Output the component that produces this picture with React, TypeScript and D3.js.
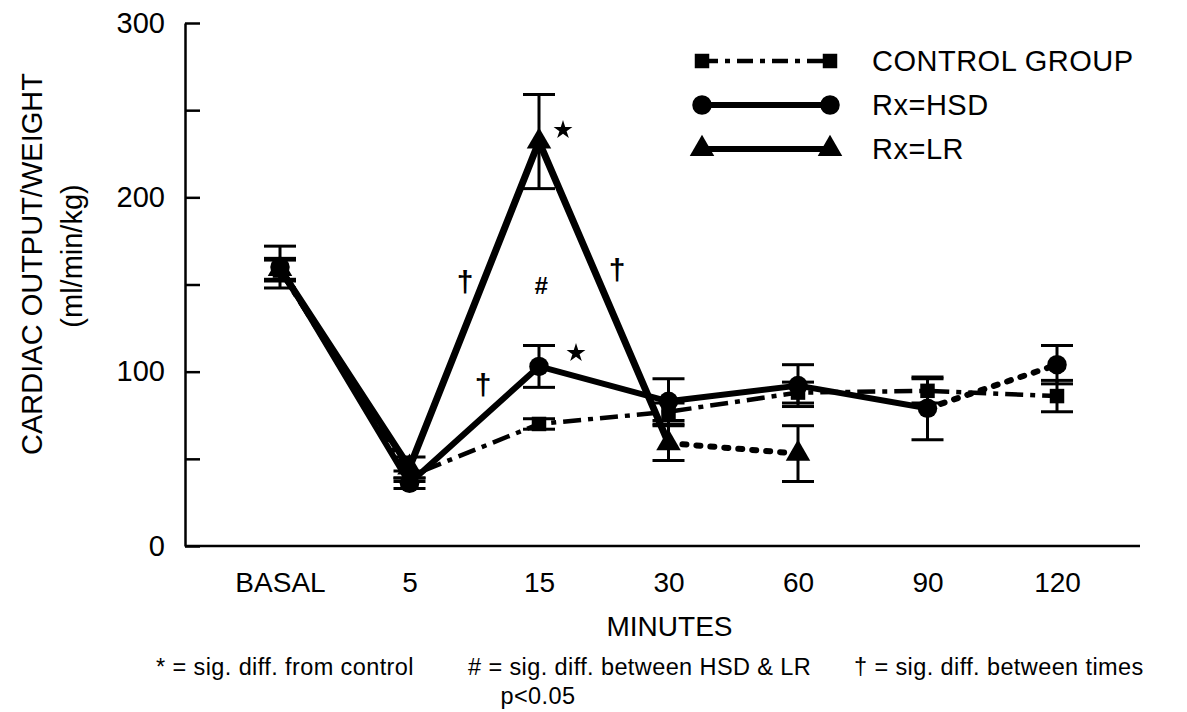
import React, { useRef, useEffect } from "react";
import * as d3 from "d3";

const WIDTH = 1187;
const HEIGHT = 712;

const TIMES = ["BASAL", "5", "15", "30", "60", "90", "120"];

const CONTROL_MEAN = [158, 40, 70, 77, 88, 89, 86];
const CONTROL_ERR = [6, 3, 3, 5, 6, 7, 9];

const HSD_MEAN = [160, 36, 103, 83, 92, 79, 104];
const HSD_ERR = [12, 3, 12, 13, 12, 18, 11];

const LR_MEAN = [159, 45, 232, 59, 53, null, null];
const LR_ERR = [6, 6, 27, 10, 16, null, null];

// index of the first segment that is drawn dotted
const HSD_DOTTED_FROM = 5;
const LR_DOTTED_FROM = 3;

const Y_TICKS = [0, 50, 100, 150, 200, 250, 300];

const FONT = "'Liberation Sans', Arial, Helvetica, sans-serif";

export default function App() {
  const svgRef = useRef<SVGSVGElement | null>(null);

  useEffect(() => {
    const svg = d3.select(svgRef.current);
    svg.selectAll("*").remove();

    const x = d3.scalePoint<string>().domain(TIMES).range([280, 1057]);
    const y = d3.scaleLinear().domain([0, 300]).range([546, 23]);
    const axisLeftX = 185;

    // ── Axes ────────────────────────────────────────────────
    const yAxis = d3
      .axisLeft(y)
      .tickValues(Y_TICKS)
      .tickSizeInner(-15)
      .tickSizeOuter(0)
      .tickPadding(20)
      .tickFormat((d) => ((d as number) % 100 === 0 ? String(d) : ""));

    const yg = svg
      .append("g")
      .attr("transform", `translate(${axisLeftX},0)`)
      .call(yAxis);
    yg.selectAll("path, line").attr("stroke", "#000").attr("stroke-width", 2.5);
    yg.selectAll("text")
      .attr("font-size", 29)
      .attr("font-family", FONT)
      .attr("fill", "#000");

    svg
      .append("line")
      .attr("x1", axisLeftX)
      .attr("x2", 1140)
      .attr("y1", y(0))
      .attr("y2", y(0))
      .attr("stroke", "#000")
      .attr("stroke-width", 2.5);

    const xAxis = d3.axisBottom(x).tickSize(0).tickPadding(26);
    const xg = svg.append("g").attr("transform", `translate(0,${y(0)})`).call(xAxis);
    xg.select(".domain").remove();
    xg.selectAll("text")
      .attr("font-size", 28)
      .attr("font-family", FONT)
      .attr("fill", "#000");

    // ── Axis titles ─────────────────────────────────────────
    svg
      .append("text")
      .attr("x", x("30")! + 1)
      .attr("y", 636)
      .attr("text-anchor", "middle")
      .attr("font-size", 28)
      .attr("font-family", FONT)
      .text("MINUTES");

    const yTitle = svg
      .append("g")
      .attr("transform", "translate(0,264) rotate(-90)")
      .attr("font-family", FONT)
      .attr("text-anchor", "middle");
    yTitle.append("text").attr("x", 0).attr("y", 42).attr("font-size", 29).text("CARDIAC OUTPUT/WEIGHT");
    yTitle.append("text").attr("x", 8).attr("y", 82).attr("font-size", 29).text("(ml/min/kg)");

    // ── Lines ───────────────────────────────────────────────
    const pts = (means: (number | null)[]) =>
      TIMES.map((t, i) => ({ t, v: means[i] })).filter((p) => p.v !== null) as {
        t: string;
        v: number;
      }[];

    const line = d3
      .line<{ t: string; v: number }>()
      .x((d) => x(d.t)!)
      .y((d) => y(d.v));

    const g = svg.append("g");

    // control: dash-dot all the way
    g.append("path")
      .attr("d", line(pts(CONTROL_MEAN)))
      .attr("fill", "none")
      .attr("stroke", "#000")
      .attr("stroke-width", 4.5)
      .attr("stroke-dasharray", "18,7,5,7");

    const drawSplit = (means: (number | null)[], dotFrom: number, w: number) => {
      const p = pts(means);
      g.append("path")
        .attr("d", line(p.slice(0, dotFrom + 1)))
        .attr("fill", "none")
        .attr("stroke", "#000")
        .attr("stroke-width", w)
        .attr("stroke-linejoin", "round");
      g.append("path")
        .attr("d", line(p.slice(dotFrom)))
        .attr("fill", "none")
        .attr("stroke", "#000")
        .attr("stroke-width", 6)
        .attr("stroke-linecap", "round")
        .attr("stroke-dasharray", "4,10");
    };
    drawSplit(HSD_MEAN, HSD_DOTTED_FROM, 6);
    drawSplit(LR_MEAN, LR_DOTTED_FROM, 7);

    // ── Error bars ──────────────────────────────────────────
    const errBars = (means: (number | null)[], errs: (number | null)[]) => {
      TIMES.forEach((t, i) => {
        const m = means[i];
        const e = errs[i];
        if (m === null || e === null) return;
        const cx = x(t)!;
        const eg = g.append("g").attr("stroke", "#000").attr("stroke-width", 3);
        eg.append("line").attr("x1", cx).attr("x2", cx).attr("y1", y(m - e)).attr("y2", y(m + e));
        [m - e, m + e].forEach((v) =>
          eg.append("line").attr("x1", cx - 16).attr("x2", cx + 16).attr("y1", y(v)).attr("y2", y(v)),
        );
      });
    };
    errBars(CONTROL_MEAN, CONTROL_ERR);
    errBars(HSD_MEAN, HSD_ERR);
    errBars(LR_MEAN, LR_ERR);

    // ── Markers ─────────────────────────────────────────────
    const square = d3.symbol().type(d3.symbolSquare).size(210);
    const circle = d3.symbol().type(d3.symbolCircle).size(300);
    const triangle = d3.symbol().type(d3.symbolTriangle).size(260);

    const markers = (means: (number | null)[], sym: d3.Symbol<any, any>) => {
      TIMES.forEach((t, i) => {
        const m = means[i];
        if (m === null) return;
        g.append("path")
          .attr("d", sym())
          .attr("transform", `translate(${x(t)},${y(m)})`)
          .attr("fill", "#000");
      });
    };
    markers(CONTROL_MEAN, square);
    markers(HSD_MEAN, circle);
    markers(LR_MEAN, triangle);

    // ── Significance marks ──────────────────────────────────
    const star = d3.symbol().type(d3.symbolStar).size(110);
    [
      [563, 130],
      [576, 353],
    ].forEach(([sx, sy]) =>
      svg.append("path").attr("d", star()).attr("transform", `translate(${sx},${sy})`).attr("fill", "#000"),
    );

    const marks: [string, number, number, number][] = [
      ["†", 465, 292, 30],
      ["†", 483, 395, 30],
      ["†", 617, 280, 30],
      ["#", 541, 294, 24],
    ];
    marks.forEach(([s, mx, my, fs]) =>
      svg
        .append("text")
        .attr("x", mx)
        .attr("y", my)
        .attr("text-anchor", "middle")
        .attr("font-size", fs)
        .attr("font-weight", "bold")
        .attr("font-style", s === "#" ? "italic" : "normal")
        .attr("font-family", FONT)
        .text(s),
    );

    // ── Legend ──────────────────────────────────────────────
    const legend = svg.append("g").attr("font-family", FONT);
    const legendRows = [
      { label: "CONTROL GROUP", sym: square, dash: "16,7,5,7", w: 4.5, ly: 61 },
      { label: "Rx=HSD", sym: circle, dash: null, w: 6, ly: 105 },
      { label: "Rx=LR", sym: triangle, dash: null, w: 6, ly: 149 },
    ];
    legendRows.forEach((r) => {
      legend
        .append("line")
        .attr("x1", 702)
        .attr("x2", 830)
        .attr("y1", r.ly)
        .attr("y2", r.ly)
        .attr("stroke", "#000")
        .attr("stroke-width", r.w)
        .attr("stroke-dasharray", r.dash);
      [702, 830].forEach((lx) =>
        legend
          .append("path")
          .attr("d", r.sym())
          .attr("transform", `translate(${lx},${r.ly})`)
          .attr("fill", "#000"),
      );
      legend
        .append("text")
        .attr("x", 872)
        .attr("y", r.ly + 10)
        .attr("font-size", 29)
        .attr("letter-spacing", 0.5)
        .text(r.label);
    });

    // ── Footnote ────────────────────────────────────────────
    const foot = svg
      .append("g")
      .attr("font-family", FONT)
      .attr("font-size", 23.5)
      .attr("letter-spacing", 0.4);
    foot.append("text").attr("x", 156).attr("y", 675).text("* = sig. diff. from control");
    foot.append("text").attr("x", 468).attr("y", 675).text("# = sig. diff. between HSD & LR");
    foot.append("text").attr("x", 854).attr("y", 675).text("† = sig. diff. between times");
    foot.append("text").attr("x", 538).attr("y", 704).attr("text-anchor", "middle").text("p<0.05");
  }, []);

  return (
    <svg
      ref={svgRef}
      width={WIDTH}
      height={HEIGHT}
      style={{ display: "block", position: "absolute", left: 0, top: 0, background: "#fff" }}
    />
  );
}
